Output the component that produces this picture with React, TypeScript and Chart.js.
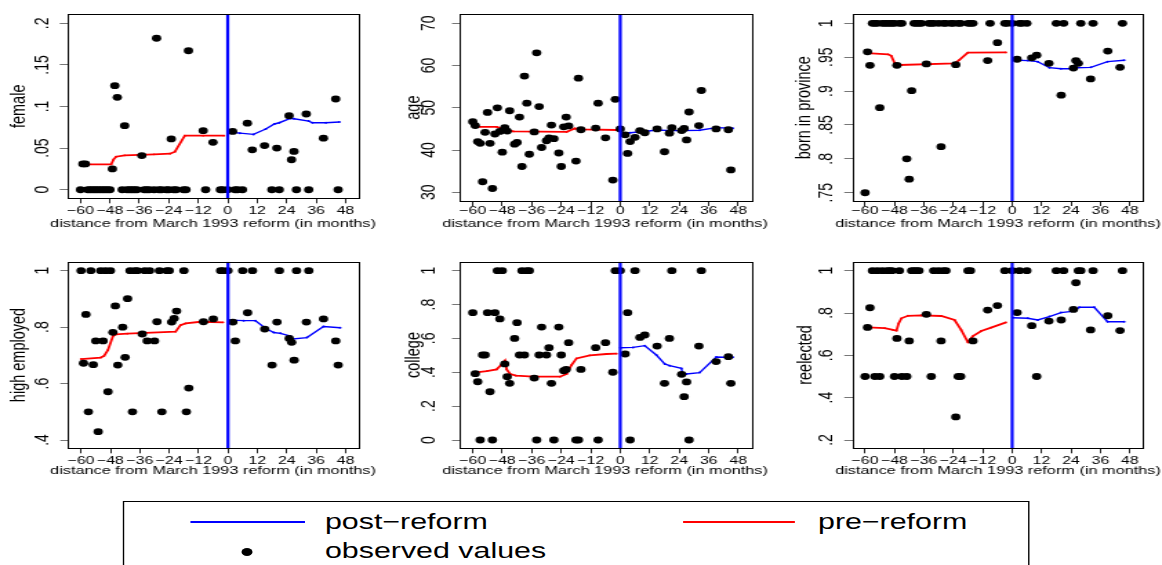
import React, { useEffect, useRef } from 'react';
import { Chart, registerables } from 'chart.js';

Chart.register(...registerables);

// ---------------- data ----------------
const months = [-60, -59, -58, -57, -56, -55, -54, -53, -52, -51, -50, -49, -48, -47, -46, -45,
  -43, -42, -41, -40, -39, -38, -37, -35, -34, -33, -32, -30, -29, -28, -27,
  -25, -24, -23, -22, -21, -18, -17, -16, -10, -9, -6, -3, -2,
  0, 2, 3, 4, 6, 8, 10, 15, 18, 20, 21, 25, 26, 27, 28, 32, 33, 39, 44, 45];

const femaleValues = [0, 0.031, 0.031, 0, 0, 0, 0, 0, 0, 0, 0, 0, 0, 0.025, 0.125, 0.111,
  0, 0.077, 0, 0, 0, 0, 0, 0.041, 0, 0, 0, 0, 0.182, 0, 0,
  0, 0, 0.061, 0, 0, 0, 0, 0.167, 0.071, 0, 0.057, 0, 0,
  0, 0.070, 0, 0, 0, 0.080, 0.048, 0.053, 0, 0.050, 0, 0.089, 0.036, 0.046, 0, 0.091, 0, 0.062, 0.109, 0];
const ageValues = [46.7, 45.8, 42.0, 41.6, 32.5, 44.2, 48.9, 41.6, 30.9, 43.8, 50.0, 44.4, 39.5, 45.3, 44.5, 49.3,
  41.4, 41.8, 47.8, 36.1, 57.5, 51.1, 39.0, 44.3, 63.0, 50.3, 40.6, 42.2, 42.9, 45.9, 42.7,
  39.3, 36.1, 45.5, 47.8, 45.7, 37.4, 57.0, 44.8, 45.2, 51.1, 42.9, 32.9, 52.0,
  45.0, 43.6, 39.2, 42.0, 43.0, 44.6, 44.1, 45.0, 39.6, 44.0, 45.3, 44.6, 45.1, 42.4, 49.0, 45.8, 54.1, 45.0, 44.8, 35.3];
const bornValues = [0.75, 0.958, 0.938, 1, 1, 1, 0.8755, 1, 1, 1, 1, 1, 1, 0.938, 1, 1,
  0.800, 0.770, 0.9006, 1, 1, 1, 1, 0.940, 1, 1, 1, 1, 0.818, 1, 1,
  1, 1, 0.939, 1, 1, 1, 1, 1, 0.945, 1, 0.9715, 1, 1,
  1, 0.947, 1, 1, 1, 0.949, 0.953, 0.941, 1, 0.894, 1, 0.934, 0.945, 0.941, 1, 0.918, 1, 0.959, 0.935, 1];
const employedValues = [1, 0.672, 0.845, 0.5, 1, 0.667, 0.751, 0.4295, 1, 0.751, 1, 0.571, 1, 0.7815, 0.875, 0.6657,
  0.800, 0.693, 0.9008, 1, 0.5, 1, 1, 0.7756, 1, 0.751, 1, 0.751, 0.819, 1, 0.5,
  1, 1, 0.818, 0.831, 0.857, 1, 0.5, 0.584, 0.819, null, 0.829, 1, 1,
  1, 0.818, 0.751, null, 1, 0.851, 1, 0.793, 0.6657, 0.818, 1, 0.760, 0.746, 0.683, 1, 0.818, 1, 0.829, 0.751, 0.6657];
const collegeValues = [0.752, 0.392, 0.344, 0, 0.502, 0.502, 0.752, 0.285, 0, 0.752, 1, 0.715, 1, 0.449, 0.374, 0.335,
  0.600, 0.693, 0.502, 1, 0.502, 1, 1, 0.366, 0, 0.502, 0.667, 0.502, 0.545, 0.335, 0,
  0.667, 0.502, 0.409, 0.417, 0.575, 0, 0, 0.417, 0.545, 0, 0.575, 0.400, 1,
  1, 0.508, 0.752, 0, 1, 0.606, 0.620, 0.555, 0.335, 0.600, 1, 0.388, 0.256, 0.343, 0, 0.555, 1, 0.463, 0.492, 0.335];
const reelectedValues = [0.5, 0.732, 0.825, 1, 0.5, 1, 0.5, 1, null, 1, 1, 1, 0.5, 0.680, 1, 0.5,
  0.5, 0.668, 1, 1, 1, 1, null, 0.794, null, 0.5, 1, 1, 0.668, 1, 1,
  null, null, 0.309, 0.5, 0.5, 1, 1, 0.668, 0.814, null, 0.835, 1, null,
  1, 0.802, 1, null, 1, 0.740, 0.5, 0.762, 1, 0.767, 1, 0.817, 0.943, 1, 1, 0.720, 1, 0.787, 0.717, 1];

// fitted lines (pre-reform red, post-reform blue)
const femalePreMonths = [-58.5, -47.5, -46.5, -45.5, -42, -30, -23.5, -21.5, -17.5, -10, -1.5];
const femalePreValues = [0.0305, 0.0305, 0.0365, 0.0397, 0.0413, 0.0425, 0.0433, 0.0457, 0.0649, 0.0649, 0.0649];
const femalePostMonths = [0.5, 5, 10.5, 15.5, 19, 21, 25.5, 27, 33, 34.5, 40, 45.5];
const femalePostValues = [0.0693, 0.068, 0.0665, 0.073, 0.079, 0.0805, 0.0857, 0.0853, 0.0825, 0.0805, 0.0805, 0.0813];

const agePreMonths = [-58.6, -50.3, -46.2, -43.5, -21.8, -18.5, -15.7, -1.5];
const agePreValues = [45.5, 45.5, 44.75, 44.4, 44.3, 45.1, 44.9, 44.75];
const agePostMonths = [0.6, 4, 10, 14.7, 20.8, 25.5, 32.3, 39.1, 45.8];
const agePostValues = [44.1, 44.1, 44.4, 44.75, 44.6, 44.6, 44.7, 45.3, 45.15];

const bornPreMonths = [-57.4, -50.6, -49.3, -47.9, -45.9, -23.5, -21.5, -18.1, -2.5];
const bornPreValues = [0.9557, 0.9542, 0.952, 0.941, 0.9385, 0.941, 0.946, 0.9567, 0.957];
const bornPostMonths = [0.2, 6.4, 10.4, 15.2, 19.9, 24, 26, 32.1, 38.9, 45.7];
const bornPostValues = [0.9459, 0.945, 0.9434, 0.9345, 0.933, 0.933, 0.9345, 0.935, 0.9434, 0.9454];

const employedPreMonths = [-60, -52, -50.6, -49, -47, -45.9, -41.1, -21.4, -19.4, -17.3, -11.2, -2];
const employedPreValues = [0.687, 0.692, 0.698, 0.719, 0.768, 0.774, 0.777, 0.784, 0.807, 0.813, 0.819, 0.817];
const employedPostMonths = [1, 6.4, 11.2, 15.3, 18.7, 21.4, 25.5, 26.4, 32.2, 39, 45.8];
const employedPostValues = [0.825, 0.823, 0.823, 0.796, 0.781, 0.778, 0.768, 0.758, 0.763, 0.802, 0.798];

const collegePreMonths = [-58.6, -54.3, -50.3, -48.5, -46.9, -46.2, -44.8, -42.4, -35.4, -24.5, -21.8, -19.8, -17.8, -12.4, -5.6, -1.5];
const collegePreValues = [0.400, 0.407, 0.417, 0.443, 0.469, 0.417, 0.390, 0.380, 0.374, 0.374, 0.390, 0.443, 0.482, 0.500, 0.508, 0.510];
const collegePostMonths = [0.1, 5.2, 10, 14.7, 18.1, 20.1, 24.9, 25.3, 26.9, 32.3, 39.1, 45.8];
const collegePostValues = [0.545, 0.547, 0.557, 0.502, 0.449, 0.439, 0.423, 0.394, 0.390, 0.398, 0.490, 0.488];

const reelectedPreMonths = [-58.8, -52, -48.6, -47.2, -46.3, -45.2, -42.5, -37.1, -28.9, -23.5, -20.8, -18.1, -16, -12.6, -8.6, -2.5];
const reelectedPreValues = [0.732, 0.729, 0.720, 0.717, 0.751, 0.775, 0.787, 0.789, 0.786, 0.767, 0.720, 0.663, 0.691, 0.715, 0.731, 0.756];
const reelectedPostMonths = [0.2, 6.4, 10.4, 15.2, 19.9, 25.3, 27.4, 33.5, 38.9, 45.7];
const reelectedPostValues = [0.778, 0.775, 0.767, 0.783, 0.802, 0.809, 0.827, 0.827, 0.759, 0.759];

const reformMonth = 0;

// ticks & labels
const xTicks = [-60, -48, -36, -24, -12, 0, 12, 24, 36, 48];
const xTickLabels = ['\u221260', '\u221248', '\u221236', '\u221224', '\u221212', '0', '12', '24', '36', '48'];
const xTitle = 'distance from March 1993 reform (in months)';
const femaleTicks = [0, 0.05, 0.1, 0.15, 0.2];
const femaleTickLabels = ['0', '.05', '.1', '.15', '.2'];
const ageTicks = [30, 40, 50, 60, 70];
const ageTickLabels = ['30', '40', '50', '60', '70'];
const bornTicks = [0.75, 0.8, 0.85, 0.9, 0.95, 1];
const bornTickLabels = ['.75', '.8', '.85', '.9', '.95', '1'];
const employedTicks = [0.4, 0.6, 0.8, 1];
const employedTickLabels = ['.4', '.6', '.8', '1'];
const collegeTicks = [0, 0.2, 0.4, 0.6, 0.8, 1];
const collegeTickLabels = ['0', '.2', '.4', '.6', '.8', '1'];
const reelectedTicks = [0.2, 0.4, 0.6, 0.8, 1];
const reelectedTickLabels = ['.2', '.4', '.6', '.8', '1'];

const legendLabels = ['post\u2212reform', 'pre\u2212reform', 'observed values'];

// ---------------- layout / style ----------------
const S = 1.38; // horizontal stretch of the reference picture
const ix = (v: number) => v / S;
const FAMILY = '"Liberation Sans", Arial, Helvetica, sans-serif';
const X_TICK_SIZE = 11.5;
const X_TITLE_SIZE = 11.8;
const Y_TICK_SIZE = 14;
const Y_TITLE_SIZE = 14.5;
const X_TICK_LEN = 5;
const Y_TICK_LEN = ix(8);
const COL_W = 280;
const X_MIN = -65.2;
const X_MAX = 53.5;
const DOT_R = 3.4;

const PANELS = [
  { title: 'female', values: femaleValues, preX: femalePreMonths, preY: femalePreValues, postX: femalePostMonths, postY: femalePostValues,
    ticks: femaleTicks, tickLabels: femaleTickLabels, yMin: -0.0103, yMax: 0.2108,
    x0: 0, y0: 0, h: 240, box: [67.7, 14.3, 359, 198.3], yTitleX: 20, yLabelX: 43.5, xLabelY: 210.7, xTitleX: 213, xTitleY: 224 },
  { title: 'age', values: ageValues, preX: agePreMonths, preY: agePreValues, postX: agePostMonths, postY: agePostValues,
    ticks: ageTicks, tickLabels: ageTickLabels, yMin: 27.94, yMax: 72.13,
    x0: 387, y0: 0, h: 240, box: [460, 14.3, 751.7, 201], yTitleX: 414, yLabelX: 430, xLabelY: 210.7, xTitleX: 605, xTitleY: 224 },
  { title: 'born in province', values: bornValues, preX: bornPreMonths, preY: bornPreValues, postX: bornPostMonths, postY: bornPostValues,
    ticks: bornTicks, tickLabels: bornTickLabels, yMin: 0.7378, yMax: 1.0133,
    x0: 775, y0: 0, h: 240, box: [852.3, 14.3, 1143.3, 201], yTitleX: 805, yLabelX: 827, xLabelY: 210.7, xTitleX: 998, xTitleY: 224 },
  { title: 'high employed', values: employedValues, preX: employedPreMonths, preY: employedPreValues, postX: employedPostMonths, postY: employedPostValues,
    ticks: employedTicks, tickLabels: employedTickLabels, yMin: 0.3706, yMax: 1.0319,
    x0: 0, y0: 245, h: 245, box: [68.3, 261.7, 359, 448.3], yTitleX: 19.5, yLabelX: 43.5, xLabelY: 460.7, xTitleX: 213, xTitleY: 471 },
  { title: 'college', values: collegeValues, preX: collegePreMonths, preY: collegePreValues, postX: collegePostMonths, postY: collegePostValues,
    ticks: collegeTicks, tickLabels: collegeTickLabels, yMin: -0.049, yMax: 1.053,
    x0: 387, y0: 245, h: 245, box: [460, 261.7, 751.7, 448.3], yTitleX: 414, yLabelX: 430, xLabelY: 460.7, xTitleX: 605, xTitleY: 471 },
  { title: 'reelected', values: reelectedValues, preX: reelectedPreMonths, preY: reelectedPreValues, postX: reelectedPostMonths, postY: reelectedPostValues,
    ticks: reelectedTicks, tickLabels: reelectedTickLabels, yMin: 0.1608, yMax: 1.0425,
    x0: 775, y0: 245, h: 245, box: [852.3, 261.7, 1143.3, 448.3], yTitleX: 806, yLabelX: 827, xLabelY: 460.7, xTitleX: 998, xTitleY: 471 },
];

function measureWidest(labels: string[], size: number) {
  const c = document.createElement('canvas').getContext('2d') as CanvasRenderingContext2D;
  c.font = `${size}px ${FAMILY}`;
  return Math.max(...labels.map((l) => c.measureText(l).width));
}

const boxPlugin = {
  id: 'plotBox',
  afterDraw(chart: any) {
    const { ctx, chartArea: a } = chart;
    ctx.save();
    ctx.strokeStyle = '#000';
    ctx.lineWidth = 1;
    const l = Math.round(a.left) + 0.5;
    const t = Math.round(a.top) + 0.5;
    ctx.strokeRect(l, t, Math.round(a.right) - Math.round(a.left), Math.round(a.bottom) - Math.round(a.top));
    ctx.restore();
  },
};

// x-axis title drawn without Chart.js's maxWidth squeeze (the reference title is wider than the plot box)
function makeXTitlePlugin(cx: number, cy: number) {
  return {
    id: 'xTitleFree',
    afterDraw(chart: any) {
      const { ctx } = chart;
      ctx.save();
      ctx.font = `${X_TITLE_SIZE}px ${FAMILY}`;
      ctx.fillStyle = '#000';
      ctx.textAlign = 'center';
      ctx.textBaseline = 'middle';
      ctx.fillText(xTitle, cx, cy);
      ctx.restore();
    },
  };
}

function pts(xs: number[], ys: (number | null)[]) {
  return xs.map((x, i) => ({ x, y: ys[i] }));
}

function makeConfig(p: any) {
  const x0i = Math.round(ix(p.x0));
  const [l, t, r, b] = p.box;
  const yW = ix(l) - x0i;
  const padRight = x0i + COL_W - ix(r);
  const padTop = t - p.y0;
  const xH = p.y0 + p.h - b;
  const xTickPad = (p.xLabelY - b) - X_TICK_LEN - (X_TICK_SIZE * 1.2) / 2;
  const yTitlePadTop = ix(p.yTitleX) - x0i - (Y_TITLE_SIZE * 1.2) / 2;
  const widest = measureWidest(p.tickLabels, Y_TICK_SIZE);
  const yTickPad = yW - Y_TICK_LEN - widest / 2 - (ix(p.yLabelX) - x0i);

  return {
    type: 'scatter',
    data: {
      datasets: [
        { data: [{ x: reformMonth, y: p.yMin }, { x: reformMonth, y: p.yMax }], showLine: true,
          borderColor: '#0000ff', borderWidth: 2.2, pointRadius: 0 },
        { data: pts(months, p.values), showLine: false, pointRadius: DOT_R,
          pointBackgroundColor: '#000', pointBorderColor: '#000', pointBorderWidth: 0 },
        { data: pts(p.postX, p.postY), showLine: true, borderColor: '#0000ff', borderWidth: 1.4,
          pointRadius: 1, pointBackgroundColor: '#0000ff', pointBorderWidth: 0 },
        { data: pts(p.preX, p.preY), showLine: true, borderColor: '#ff0000', borderWidth: 1.8,
          pointRadius: 0.9, pointBackgroundColor: '#ff0000', pointBorderWidth: 0 },
      ],
    },
    options: {
      animation: false,
      responsive: false,
      devicePixelRatio: 1,
      events: [],
      layout: { padding: { left: 0, top: padTop, right: padRight, bottom: 0 } },
      plugins: { legend: { display: false }, tooltip: { enabled: false }, title: { display: false } },
      scales: {
        x: {
          type: 'linear', position: 'bottom', min: X_MIN, max: X_MAX, bounds: 'data',
          afterBuildTicks: (s: any) => { s.ticks = xTicks.map((v) => ({ value: v })); },
          afterFit: (s: any) => { s.height = xH; s.paddingLeft = 0; s.paddingRight = 0; },
          ticks: { callback: (_v: any, i: number) => xTickLabels[i], autoSkip: false, maxRotation: 0, minRotation: 0,
            font: { family: FAMILY, size: X_TICK_SIZE }, color: '#000', padding: xTickPad },
          grid: { display: true, drawOnChartArea: false, drawTicks: true, tickLength: X_TICK_LEN, color: '#222', lineWidth: 1 },
          border: { display: false },
          title: { display: false },
        },
        y: {
          type: 'linear', position: 'left', min: p.yMin, max: p.yMax, bounds: 'data',
          afterBuildTicks: (s: any) => { s.ticks = p.ticks.map((v: number) => ({ value: v })); },
          afterFit: (s: any) => { s.width = yW; s.paddingTop = 0; s.paddingBottom = 0; },
          ticks: { callback: (_v: any, i: number) => p.tickLabels[i], autoSkip: false, minRotation: 90, maxRotation: 90,
            crossAlign: 'center', font: { family: FAMILY, size: Y_TICK_SIZE }, color: '#000', padding: yTickPad },
          grid: { display: true, drawOnChartArea: false, drawTicks: true, tickLength: Y_TICK_LEN, color: '#777', lineWidth: 1 },
          border: { display: false },
          title: { display: true, text: p.title, color: '#000', font: { family: FAMILY, size: Y_TITLE_SIZE },
            padding: { top: yTitlePadTop, bottom: 0 } },
        },
      },
    },
    plugins: [boxPlugin, makeXTitlePlugin(ix(p.xTitleX) - x0i, p.xTitleY - p.y0)],
  };
}

function PanelChart({ p }: { p: any }) {
  const ref = useRef<HTMLCanvasElement | null>(null);
  useEffect(() => {
    const chart = new Chart(ref.current as HTMLCanvasElement, makeConfig(p) as any);
    return () => chart.destroy();
  }, [p]);
  const left = Math.round(ix(p.x0));
  return (
    <canvas
      ref={ref}
      width={COL_W}
      height={p.h}
      style={{ position: 'absolute', left, top: p.y0, width: COL_W, height: p.h, display: 'block' }}
    />
  );
}

function Legend() {
  const text: React.CSSProperties = {
    position: 'absolute', fontFamily: FAMILY, fontSize: 22, lineHeight: '22px', whiteSpace: 'nowrap', color: '#000',
  };
  return (
    <>
      <div style={{ position: 'absolute', left: ix(123), top: 501, width: ix(1029 - 123), height: 100,
        border: '1px solid #000', boxSizing: 'border-box' }} />
      <div style={{ position: 'absolute', left: ix(190), top: 520.7, width: ix(115), height: 2, background: '#0000ff' }} />
      <span style={{ ...text, left: ix(325), top: 510.7 }}>{legendLabels[0]}</span>
      <div style={{ position: 'absolute', left: ix(683), top: 520.7, width: ix(112), height: 2, background: '#ff0000' }} />
      <span style={{ ...text, left: ix(818), top: 510.7 }}>{legendLabels[1]}</span>
      <div style={{ position: 'absolute', left: ix(247.7) - 4, top: 551.7 - 4, width: 8, height: 8, borderRadius: '50%', background: '#000' }} />
      <span style={{ ...text, left: ix(325), top: 540.4 }}>{legendLabels[2]}</span>
    </>
  );
}

export default function App() {
  return (
    <div style={{ position: 'absolute', left: 0, top: 0, width: 1162 / S, height: 565, overflow: 'hidden',
      background: '#fff', transform: `scaleX(${S})`, transformOrigin: '0 0' }}>
      {PANELS.map((p, i) => <PanelChart key={i} p={p} />)}
      <Legend />
    </div>
  );
}
